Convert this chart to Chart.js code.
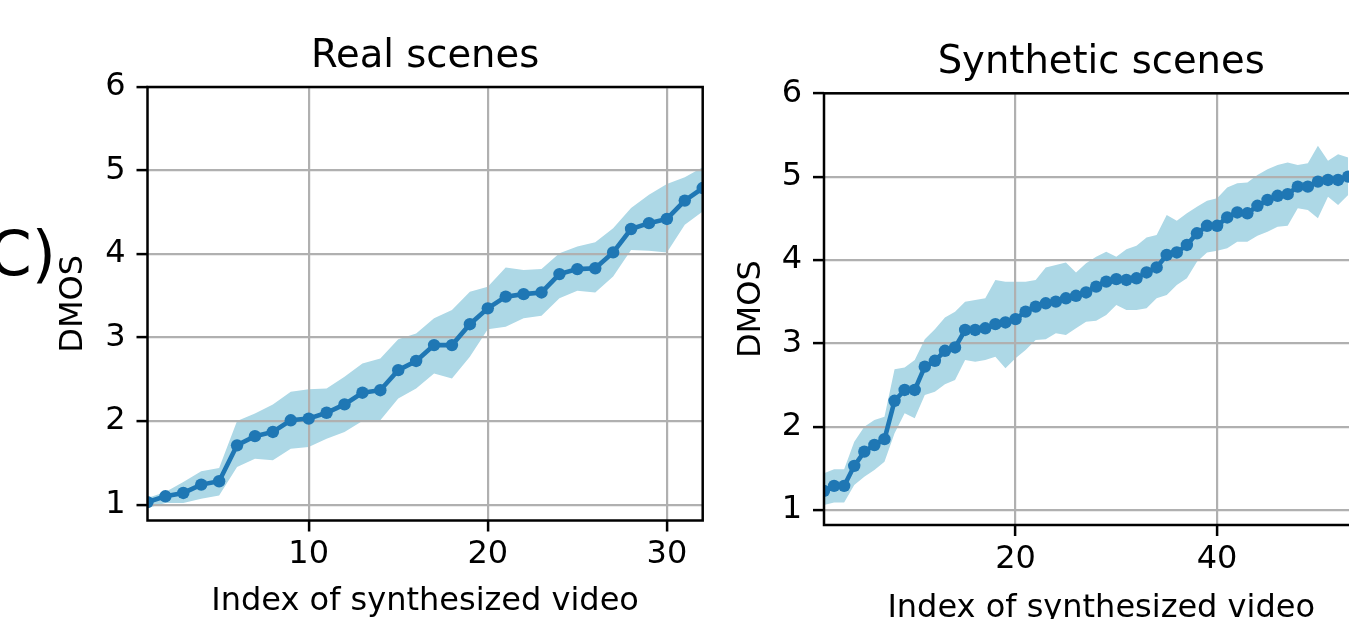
<!DOCTYPE html>
<html><head><meta charset="utf-8">
<script src="https://cdn.jsdelivr.net/npm/chart.js@4/dist/chart.umd.min.js"></script>
<style>
html,body{margin:0;padding:0;background:#fff;width:1349px;height:619px;overflow:hidden;position:relative;}
canvas{position:absolute;top:0;}
#panel{position:absolute;top:223px;right:1293px;font-family:'DejaVu Sans';font-size:62px;line-height:62px;white-space:nowrap;color:#000;}
</style></head><body>
<div id="panel">(C)</div>
<canvas id="real" width="720" height="640" style="left:0px;width:720px;height:640px"></canvas>
<canvas id="syn" width="700" height="640" style="left:700px;width:700px;height:640px"></canvas>
<script>
// ---- data ----
const realIdx = [1,2,3,4,5,6,7,8,9,10,11,12,13,14,15,16,17,18,19,20,21,22,23,24,25,26,27,28,29,30,31,32];
const realMean = [1.03,1.10,1.14,1.24,1.28,1.71,1.82,1.87,2.01,2.03,2.10,2.20,2.34,2.37,2.61,2.72,2.91,2.91,3.16,3.35,3.49,3.52,3.54,3.76,3.82,3.83,4.02,4.30,4.37,4.42,4.64,4.79];
const realUpper = [1.08,1.15,1.27,1.40,1.44,2.00,2.09,2.20,2.35,2.38,2.39,2.53,2.69,2.75,2.98,3.05,3.23,3.33,3.55,3.61,3.84,3.81,3.82,4.01,4.09,4.14,4.31,4.55,4.71,4.84,4.92,5.04];
const realLower = [0.96,1.02,1.02,1.07,1.11,1.45,1.55,1.53,1.67,1.69,1.79,1.87,2.00,2.01,2.27,2.39,2.57,2.51,2.77,3.10,3.13,3.23,3.26,3.47,3.56,3.54,3.73,4.05,4.04,4.02,4.35,4.51];

const synIdx = [1,2,3,4,5,6,7,8,9,10,11,12,13,14,15,16,17,18,19,20,21,22,23,24,25,26,27,28,29,30,31,32,33,34,35,36,37,38,39,40,41,42,43,44,45,46,47,48,49,50,51,52,53];
const synMean = [1.23,1.29,1.29,1.53,1.70,1.78,1.85,2.31,2.44,2.44,2.72,2.79,2.91,2.95,3.16,3.16,3.18,3.23,3.25,3.29,3.38,3.44,3.48,3.50,3.54,3.57,3.61,3.68,3.74,3.77,3.76,3.78,3.85,3.91,4.06,4.09,4.18,4.32,4.41,4.41,4.51,4.57,4.56,4.65,4.72,4.77,4.79,4.88,4.88,4.94,4.96,4.96,5.00];
const synUpper = [1.44,1.49,1.49,1.82,2.00,2.08,2.12,2.69,2.71,2.80,3.05,3.17,3.31,3.38,3.50,3.52,3.54,3.76,3.74,3.74,3.74,3.76,3.91,3.94,3.97,3.85,3.96,4.04,4.10,4.04,4.13,4.17,4.27,4.30,4.54,4.47,4.56,4.64,4.71,4.74,4.87,4.92,4.93,5.02,5.09,5.14,5.17,5.14,5.16,5.37,5.19,5.27,5.23];
const synLower = [1.06,1.09,1.09,1.30,1.40,1.48,1.58,1.92,2.16,2.10,2.38,2.42,2.51,2.56,2.80,2.78,2.80,2.84,2.70,2.82,2.92,3.04,3.05,3.12,3.10,3.18,3.26,3.27,3.34,3.46,3.40,3.40,3.42,3.54,3.58,3.70,3.78,3.98,4.09,4.11,4.14,4.22,4.22,4.29,4.34,4.40,4.41,4.62,4.60,4.50,4.76,4.66,4.78];

const realXTicks = [10,20,30];
const synXTicks = [20,40];
const yTicks = [1,2,3,4,5,6];
const realTitle = 'Real scenes';
const synTitle = 'Synthetic scenes';
const xLabel = 'Index of synthesized video';
const yLabel = 'DMOS';

// ---- drawing ----
const FONT = 'DejaVu Sans';
const frame = {id:'frame', afterDraw(c){
  const a = c.chartArea, x = c.ctx;
  x.save(); x.strokeStyle = '#000'; x.lineWidth = 2.5;
  x.strokeRect(a.left, a.top, a.right - a.left, a.bottom - a.top);
  x.restore();
}};

function build(id, o) {
  const pts = arr => o.x.map((v, i) => ({x: v, y: arr[i]}));
  return new Chart(document.getElementById(id), {
    type: 'line',
    data: {datasets: [
      {data: pts(o.mean), borderColor: '#1f77b4', backgroundColor: '#1f77b4', borderWidth: 4.6,
       pointRadius: 6.2, pointHoverRadius: 6.2, pointBackgroundColor: '#1f77b4', pointBorderWidth: 0,
       fill: false, order: 0, tension: 0},
      {data: pts(o.lower), borderWidth: 0, borderColor: 'rgba(0,0,0,0)', pointRadius: 0, fill: false, order: 2},
      {data: pts(o.upper), borderWidth: 0, borderColor: 'rgba(0,0,0,0)', pointRadius: 0, fill: '-1',
       backgroundColor: '#add8e6', order: 1}
    ]},
    options: {
      responsive: false, animation: false, devicePixelRatio: 1,
      events: [],
      layout: {padding: {left: 0, top: 0, bottom: 0, right: o.padRight}},
      plugins: {
        legend: {display: false}, tooltip: {enabled: false},
        filler: {drawTime: 'beforeDraw'},
        title: {display: true, text: o.title, fullSize: false, color: '#000',
          font: {family: FONT, size: 38.5, weight: 'normal', lineHeight: 1.2},
          padding: {top: o.titleTop, bottom: o.titleBottom}}
      },
      scales: {
        x: {type: 'linear', min: o.xmin, max: o.xmax,
          afterBuildTicks: s => { s.ticks = o.xticks.map(v => ({value: v})); },
          afterFit: s => { s.height = o.xAxisH; },
          grid: {color: '#b0b0b0', lineWidth: 2.2, drawTicks: true, tickLength: 11, tickColor: '#000', tickWidth: 2.5},
          border: {display: false},
          ticks: {color: '#000', font: {family: FONT, size: 32}, padding: 4, maxRotation: 0, autoSkip: false},
          title: {display: true, text: xLabel, color: '#000', font: {family: FONT, size: 32, lineHeight: 1.2},
            padding: {top: 0, bottom: o.xTitleBottom}}
        },
        y: {type: 'linear', min: o.ymin, max: 6,
          afterBuildTicks: s => { s.ticks = yTicks.map(v => ({value: v})); },
          afterFit: s => { s.width = o.yAxisW; },
          grid: {color: '#b0b0b0', lineWidth: 2.2, drawTicks: true, tickLength: 11, tickColor: '#000', tickWidth: 2.5},
          border: {display: false},
          ticks: {color: '#000', font: {family: FONT, size: 32}, padding: 11, autoSkip: false},
          title: {display: true, text: yLabel, color: '#000', font: {family: FONT, size: 32, lineHeight: 1.2},
            padding: {top: o.yTitleTop, bottom: 0}}
        }
      }
    },
    plugins: [frame]
  });
}

build('real', {x: realIdx, mean: realMean, upper: realUpper, lower: realLower, title: realTitle,
  xmin: 1, xmax: 32, ymin: 0.81, xticks: realXTicks,
  padRight: 17.3, yAxisW: 147.5, xAxisH: 119.5, titleTop: 33.7, titleBottom: 7.1,
  xTitleBottom: 18.8, yTitleTop: 54.8});

build('syn', {x: synIdx, mean: synMean, upper: synUpper, lower: synLower, title: synTitle,
  xmin: 1, xmax: 56, ymin: 0.82, xticks: synXTicks,
  padRight: 21.6, yAxisW: 124, xAxisH: 115, titleTop: 40, titleBottom: 7.1,
  xTitleBottom: 11.8, yTitleTop: 32.5});
</script>
</body></html>
